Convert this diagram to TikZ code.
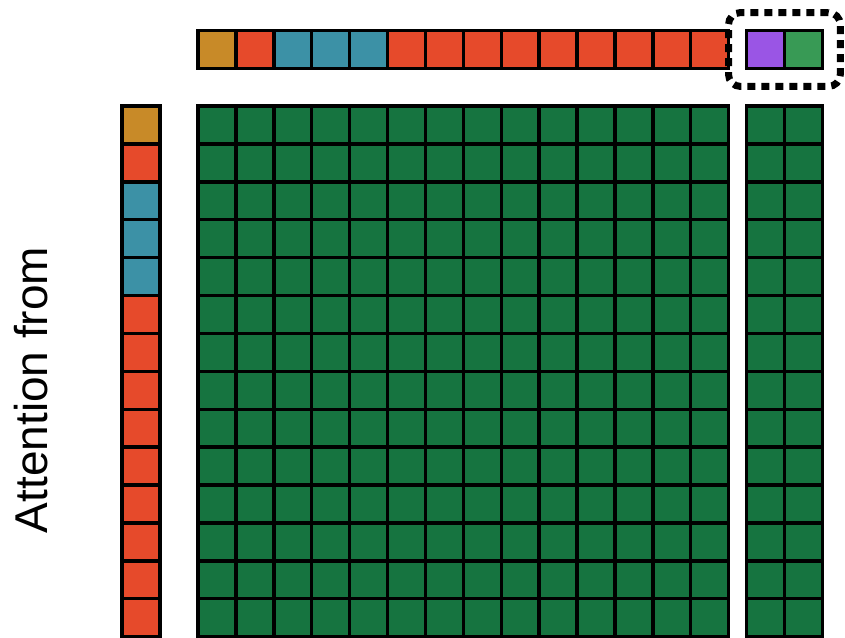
\documentclass[tikz,border=0pt]{standalone}
\usepackage{fontspec}
\setmainfont{Liberation Sans}
\usetikzlibrary{fit}
\definecolor{tokOrange}{HTML}{C88A28}
\definecolor{tokRed}{HTML}{E64A2B}
\definecolor{tokTeal}{HTML}{3C91A6}
\definecolor{attnGreen}{HTML}{167440}
\definecolor{newPurple}{HTML}{9A55E5}
\definecolor{newGreen}{HTML}{389A55}

\begin{document}
\begin{tikzpicture}[x=1pt, y=-1pt,
 cell/.style={draw=black, line width=3.4pt, minimum size=37.9pt, inner sep=0pt, outer sep=0pt},
 newbox/.style={draw=black, line width=7pt, dash pattern=on 8pt off 6pt, rounded corners=12pt, inner sep=18pt},
]
 \useasboundingbox (0,0) rectangle (845,637);
 % key tokens (top row) and query tokens (left column)
 \foreach \i/\c in {1/tokOrange, 2/tokRed, 3/tokTeal, 4/tokTeal, 5/tokTeal, 6/tokRed, 7/tokRed,
   8/tokRed, 9/tokRed, 10/tokRed, 11/tokRed, 12/tokRed, 13/tokRed, 14/tokRed}{
   \node[cell, fill=\c] (k\i) at ({198+(\i-0.5)*37.9}, 49.5) {};
   \node[cell, fill=\c] (q\i) at (141, {106+(\i-0.5)*37.9}) {};
 }
 % appended tokens
 \node[cell, fill=newPurple] (k15) at ({746.5+0.5*37.9}, 49.5) {};
 \node[cell, fill=newGreen] (k16) at ({746.5+1.5*37.9}, 49.5) {};
 \node[newbox, fit=(k15)(k16)] (newtok) {};
 % attention grid, main block and appended block
 \foreach \r in {1,...,14}{
   \foreach \c in {1,...,14}
     \node[cell, fill=attnGreen] (a\r-\c) at ({198+(\c-0.5)*37.9}, {106+(\r-0.5)*37.9}) {};
   \foreach \c in {1,2}
     \node[cell, fill=attnGreen] (b\r-\c) at ({746.5+(\c-0.5)*37.9}, {106+(\r-0.5)*37.9}) {};
 }
 \node[font=\fontsize{46}{50}\selectfont, rotate=90, anchor=base] (from) at (47,390) {Attention from};
\end{tikzpicture}
\end{document}
